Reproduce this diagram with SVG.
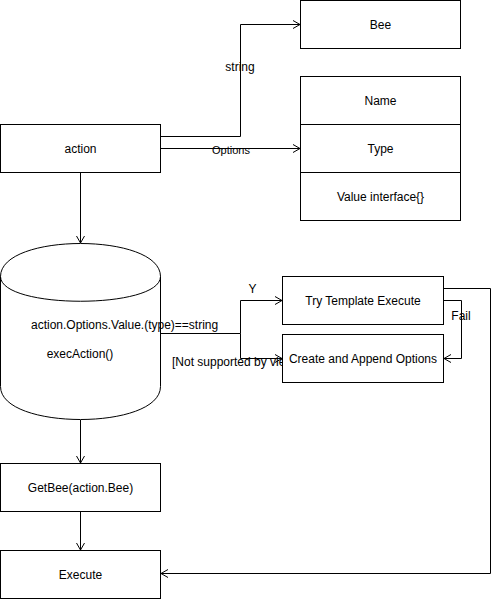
<svg xmlns="http://www.w3.org/2000/svg" width="499" height="599" viewBox="0 0 499 599">
<style>
.box{fill:#fff;stroke:#000;stroke-width:1}
.ln{fill:none;stroke:#000;stroke-width:1}
text{font-family:"Liberation Sans",Arial,sans-serif;font-size:12px;fill:#000}
.c{text-anchor:middle}
.sm{font-size:11px}
</style>
<defs>
<marker id="arr" markerUnits="userSpaceOnUse" markerWidth="10" markerHeight="10" refX="8" refY="5" orient="auto" overflow="visible">
<path d="M1,1 L8,5 L1,9" fill="none" stroke="#000" stroke-width="1"/>
</marker>
<clipPath id="clipNs"><rect x="160" y="340" width="122" height="40"/></clipPath>
</defs>
<rect width="499" height="599" fill="#fff"/>
<g id="connectors">
<path class="ln" d="M160.5,136.5 H240.5 V24.5 H300" marker-end="url(#arr)"/>
<text class="c" x="240" y="71">string</text>
<path class="ln" d="M160.5,148.5 H300" marker-end="url(#arr)"/>
<text class="c sm" x="231" y="154">Options</text>
<path class="ln" d="M80.5,172.5 V243" marker-end="url(#arr)"/>
<path class="ln" d="M160.5,333.5 H240.5 V300.5 H282" marker-end="url(#arr)"/>
<path class="ln" d="M240.5,333.5 V358.5 H282" marker-end="url(#arr)"/>
<text class="c" x="252.5" y="293">Y</text>
<text x="172" y="366" clip-path="url(#clipNs)">[Not supported by viewer]</text>
<path class="ln" d="M443.5,300.5 H461.5 V358.5 H444" marker-end="url(#arr)"/>
<text class="c" x="461" y="320">Fail</text>
<path class="ln" d="M443.5,288.5 H490.5 V573.5 H161" marker-end="url(#arr)"/>
<path class="ln" d="M80.5,420 V463" marker-end="url(#arr)"/>
<path class="ln" d="M80.5,511.5 V550" marker-end="url(#arr)"/>
</g>
<g id="bee">
<rect class="box" x="300.5" y="0.5" width="160" height="48"/>
<text class="c" x="380.5" y="29">Bee</text>
</g>
<g id="options">
<rect class="box" x="300.5" y="76.5" width="160" height="48"/>
<text class="c" x="380.5" y="105">Name</text>
<rect class="box" x="300.5" y="124.5" width="160" height="48"/>
<text class="c" x="380.5" y="153">Type</text>
<rect class="box" x="300.5" y="172.5" width="160" height="48"/>
<text class="c" x="380.5" y="201">Value interface{}</text>
</g>
<g id="action">
<rect class="box" x="0.5" y="124.5" width="160" height="48"/>
<text class="c" x="80.5" y="153">action</text>
</g>
<g id="execAction">
<path class="box" d="M0.5,276.5 C0.5,232.5 160.5,232.5 160.5,276.5 L160.5,386.5 C160.5,430.5 0.5,430.5 0.5,386.5 Z"/>
<path class="ln" d="M0.5,276.5 C0.5,309.5 160.5,309.5 160.5,276.5"/>
<text x="31" y="329">action.Options.Value.(type)==string</text>
<text class="c" x="80" y="358">execAction()</text>
</g>
<g id="tryTemplate">
<rect class="box" x="282.5" y="276.5" width="161" height="48"/>
<text class="c" x="363" y="305">Try Template Execute</text>
</g>
<g id="createAppend">
<rect class="box" x="282.5" y="334.5" width="161" height="48"/>
<text class="c" x="363" y="363">Create and Append Options</text>
</g>
<g id="getBee">
<rect class="box" x="0.5" y="463.5" width="160" height="48"/>
<text class="c" x="80.5" y="492">GetBee(action.Bee)</text>
</g>
<g id="execute">
<rect class="box" x="0.5" y="550.5" width="160" height="48"/>
<text class="c" x="80.5" y="579">Execute</text>
</g>
</svg>
